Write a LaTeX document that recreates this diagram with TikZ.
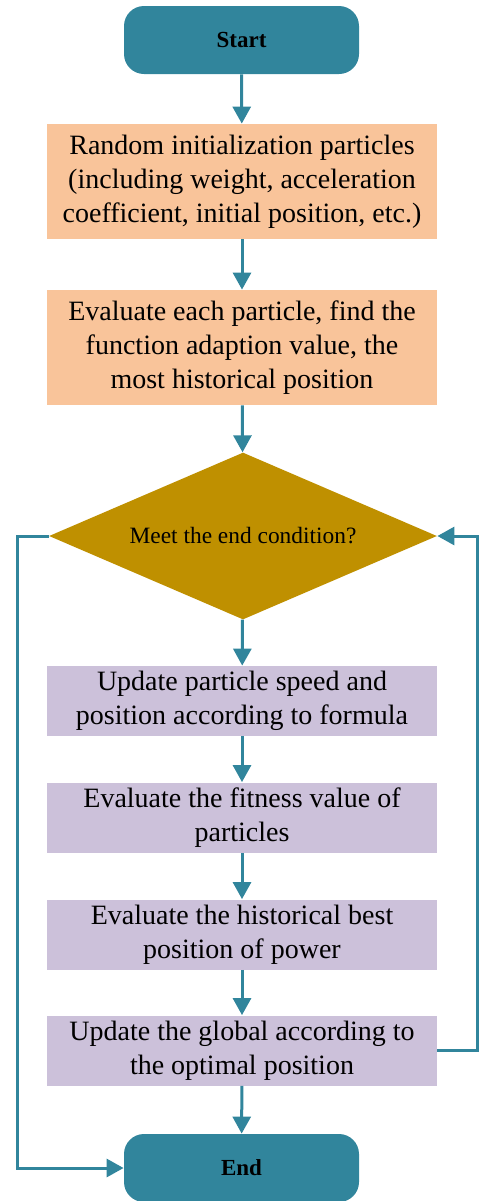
\documentclass[tikz,border=0pt]{standalone}
\usepackage{fontspec}
\setmainfont{Liberation Serif}
\usepackage{xcolor}
\usetikzlibrary{shapes.geometric,arrows.meta}
\definecolor{teal}{HTML}{31859C}
\definecolor{peach}{HTML}{F9C49A}
\definecolor{gold}{HTML}{BF9000}
\definecolor{lilac}{HTML}{CCC1DA}
\tikzset{
  term/.style={rectangle,rounded corners=10pt,fill=teal,minimum width=117.5pt,minimum height=34pt,font=\fontsize{11.5}{13}\selectfont\bfseries},
  initbox/.style={rectangle,fill=peach,minimum width=195pt,minimum height=57.5pt,align=center,inner sep=0pt,font=\fontsize{14}{17}\selectfont},
  loopbox/.style={rectangle,fill=lilac,minimum width=195pt,minimum height=35pt,align=center,inner sep=0pt,font=\fontsize{14}{17}\selectfont},
  decision/.style={diamond,fill=gold,aspect=2.3,inner sep=0pt,minimum width=194pt,minimum height=83.5pt,font=\fontsize{11.7}{13}\selectfont},
  flow/.style={teal,line width=1.5pt,-{Triangle[width=9pt,length=8.5pt]}}
}
\begin{document}
\begin{tikzpicture}[x=0.5pt,y=-0.5pt]
  \useasboundingbox (0,0) rectangle (479,1201);
  % Nodes
  \node[term] (start) at (241.5,40) {Start};
  \node[initbox] (init) at (242,181.5) {Random initialization particles\\(including weight, acceleration\\coefficient, initial position, etc.)};
  \node[initbox] (eval) at (242,347.5) {Evaluate each particle, find the\\function adaption value, the\\most historical position};
  \node[decision] (cond) at (243,536) {Meet the end condition?};
  \node[loopbox] (upd) at (242,701) {Update particle speed and\\position according to formula};
  \node[loopbox] (fit) at (242,817.5) {Evaluate the fitness value of\\particles};
  \node[loopbox] (hist) at (242,934.5) {Evaluate the historical best\\position of power};
  \node[loopbox] (glob) at (242,1050.5) {Update the global according to\\the optimal position};
  \node[term] (end) at (241.5,1168) {End};
  % Connectors
  \draw[flow] (start) -- (init);
  \draw[flow] (init) -- (eval);
  \draw[flow] (eval) -- (cond);
  \draw[flow] (cond) -- (upd);
  \draw[flow] (upd) -- (fit);
  \draw[flow] (fit) -- (hist);
  \draw[flow] (hist) -- (glob);
  \draw[flow] (glob) -- (end);
  % Loops
  \draw[flow] (cond.west) -- (17,536) |- (end.west);
  \draw[flow] (glob.east) -- (477,1050.5) |- (cond.east);
\end{tikzpicture}
\end{document}
